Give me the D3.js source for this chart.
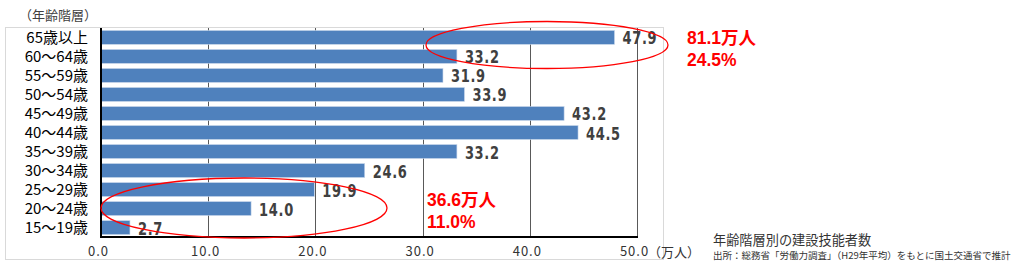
<!DOCTYPE html>
<html><head><meta charset="utf-8">
<script src="https://cdn.jsdelivr.net/npm/d3@7"></script>
<style>body{margin:0;background:#fff}svg{display:block}</style>
</head><body>
<svg id="c" width="1024" height="270"></svg>
<script>
const categories = ["65歳以上","60～64歳","55～59歳","50～54歳","45～49歳","40～44歳","35～39歳","30～34歳","25～29歳","20～24歳","15～19歳"];
const values = [47.9,33.2,31.9,33.9,43.2,44.5,33.2,24.6,19.9,14.0,2.7];
const tickValues = [0,10,20,30,40,50];
const tickLabels = ["0.0","10.0","20.0","30.0","40.0","50.0"];
const notes = [
  {a:"81.1万人", b:"24.5%"},
  {a:"36.6万人", b:"11.0%"}
];

const svg = d3.select("#c");
const m = {l:101, r:637, t:28, b:237};
const x = d3.scaleLinear().domain([0,50]).range([m.l, m.r]);
const y = d3.scaleBand().domain(categories).range([m.t, m.b]).paddingInner(0.27).paddingOuter(0.13);

// outer frame
svg.append("rect").attr("x",5.5).attr("y",27.5).attr("width",658).attr("height",232)
  .attr("fill","none").attr("stroke","#d9d9d9").attr("stroke-width",1);

// grid
svg.append("g").selectAll("line").data(tickValues.slice(1)).join("line")
  .attr("x1",d=>Math.round(x(d))+0.5).attr("x2",d=>Math.round(x(d))+0.5)
  .attr("y1",m.t).attr("y2",m.b).attr("stroke","#595959").attr("stroke-width",1);

// bars
svg.append("g").selectAll("rect").data(values).join("rect")
  .attr("x",x(0)).attr("y",(d,i)=>y(categories[i]))
  .attr("width",d=>x(d)-x(0)).attr("height",y.bandwidth())
  .attr("fill","#4f81bd").attr("stroke","#c5d5ea").attr("stroke-width",0.6);

// axes lines
svg.append("line").attr("x1",m.l).attr("x2",m.l).attr("y1",m.t).attr("y2",m.b+1).attr("stroke","#000").attr("stroke-width",2);
svg.append("line").attr("x1",m.l).attr("x2",m.r+1).attr("y1",m.b).attr("y2",m.b).attr("stroke","#000").attr("stroke-width",2);

// value labels (condensed bold)
svg.append("g").selectAll("text").data(values).join("text")
  .attr("transform",(d,i)=>`translate(${x(d)+8},${y(categories[i])+y.bandwidth()/2+7}) scale(0.85,1)`)
  .attr("font-family","'DejaVu Sans Condensed','DejaVu Sans',sans-serif")
  .attr("font-weight","bold").attr("font-size",17).attr("letter-spacing",0.8)
  .attr("fill","#404040").text(d=>d.toFixed(1));

// category labels
svg.append("g").selectAll("text").data(categories).join("text")
  .attr("x",88).attr("y",d=>y(d)+y.bandwidth()/2+5.5)
  .attr("text-anchor","end").attr("font-family","'Noto Sans CJK JP',sans-serif")
  .attr("font-size",15).attr("fill","#000").text(d=>d);

// x axis via d3
const ax = d3.axisBottom(x).tickValues(tickValues).tickFormat((d,i)=>tickLabels[i]).tickSize(0).tickPadding(10);
const axg = svg.append("g").attr("transform",`translate(-3,${m.b})`).call(ax);
axg.select(".domain").remove();
axg.selectAll("text").attr("font-family","'Noto Sans CJK JP',sans-serif").attr("font-size",13)
  .attr("fill","#333").attr("letter-spacing",1);

svg.append("text").attr("x",648).attr("y",256.5).attr("font-family","'Noto Sans CJK JP',sans-serif")
  .attr("font-size",13).attr("fill","#333").text("（万人）");

svg.append("text").attr("x",19).attr("y",20).attr("font-family","'Noto Sans CJK JP',sans-serif")
  .attr("font-size",13).attr("fill","#404040").text("（年齢階層）");

// ellipses
svg.append("ellipse").attr("cx",547).attr("cy",45).attr("rx",121).attr("ry",23.5)
  .attr("fill","none").attr("stroke","#ff0000").attr("stroke-width",1.3);
svg.append("ellipse").attr("cx",244).attr("cy",208).attr("rx",143).attr("ry",30)
  .attr("fill","none").attr("stroke","#ff0000").attr("stroke-width",1.3);

// red notes
const notePos = [[687,43.5,66],[427,206,227.5]];
notes.forEach((n,i)=>{
  const [nx,y1,y2] = notePos[i];
  [n.a,n.b].forEach((t,j)=>{
    svg.append("text").attr("x",nx).attr("y",j?y2:y1)
      .attr("font-family","'Liberation Sans','Noto Sans CJK JP',sans-serif").attr("font-weight","bold")
      .attr("font-size",17.5).attr("fill","#ff0000").text(t);
  });
});

svg.append("text").attr("x",713).attr("y",245).attr("font-family","'Noto Sans CJK JP',sans-serif")
  .attr("font-size",13.2).attr("fill","#333").text("年齢階層別の建設技能者数");
svg.append("text").attr("x",713).attr("y",259).attr("font-family","'Noto Sans CJK JP',sans-serif")
  .attr("font-size",9.5).attr("fill","#333").text("出所：総務省「労働力調査」（H29年平均）をもとに国土交通省で推計");
</script>
</body></html>
